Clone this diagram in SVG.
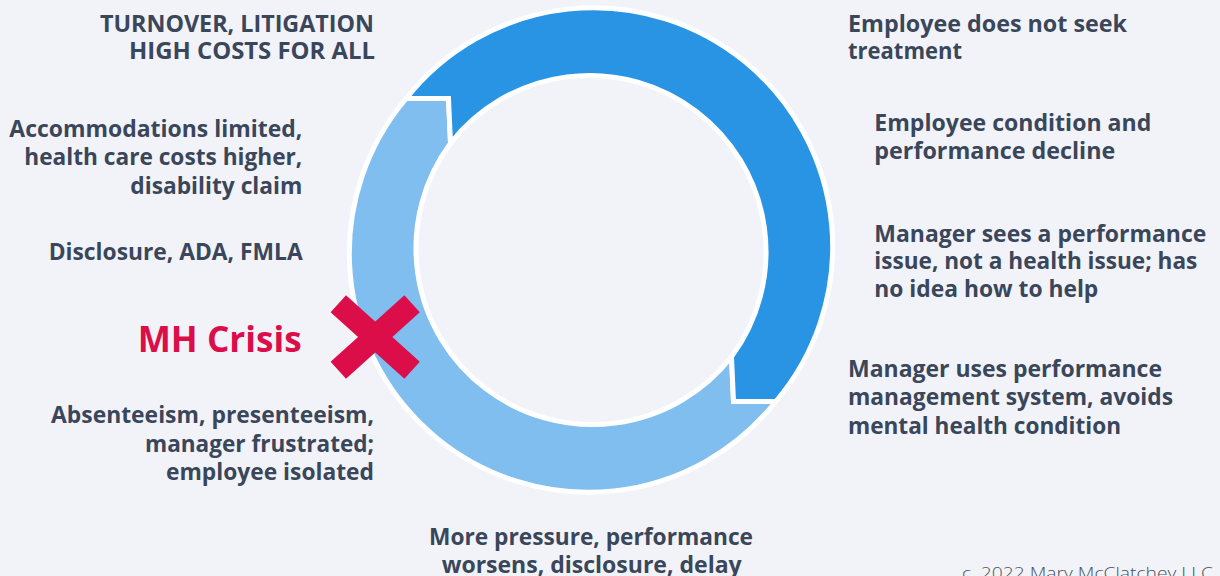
<svg xmlns="http://www.w3.org/2000/svg" width="1220" height="576" viewBox="0 0 1220 576">
<style>
.lbl{font-family:"Open Sans","Liberation Sans",sans-serif;font-weight:700;font-size:23px;fill:#3A4659}
.r{text-anchor:end}
.m{text-anchor:middle}
.crisis{font-family:"Open Sans","Liberation Sans",sans-serif;font-weight:700;font-size:36px;fill:#DB0E4A;text-anchor:end}
.copy{font-family:"Open Sans","Liberation Sans",sans-serif;font-weight:300;font-size:17px;fill:#4A4F5A}
.seg{stroke:#FFFFFF;stroke-width:5;stroke-linejoin:miter}
</style>
<rect width="1220" height="576" fill="#F2F3F9"/>
<g id="connectors">
<path class="seg" fill="#7FBEEF" d="M775.8,401.5 A239,239 0 1 1 406.2,98.5 L448.5,98.5 L450.5,143.2 A176.5,176.5 0 0 0 731.5,356.8 L733.5,401.5 Z"/>
<path class="seg" fill="#2894E3" d="M406.2,98.5 A239,239 0 1 1 775.8,401.5 L733.5,401.5 L731.5,356.8 A176.5,176.5 0 0 0 450.5,143.2 L448.5,98.5 Z"/>
</g>
<g id="crisis-mark">
<line x1="338.3" y1="303.7" x2="412.1" y2="370.3" stroke="#DB0E4A" stroke-width="23"/>
<line x1="412.1" y1="303.7" x2="338.3" y2="370.3" stroke="#DB0E4A" stroke-width="23"/>
</g>
<g id="n-turnover">
<text class="lbl r" x="374" y="31.7" textLength="274" lengthAdjust="spacingAndGlyphs">TURNOVER, LITIGATION</text>
<text class="lbl r" x="375" y="59.3" textLength="246" lengthAdjust="spacingAndGlyphs">HIGH COSTS FOR ALL</text>
</g>
<g id="n-accommodations">
<text class="lbl r" x="302.3" y="136.7" textLength="293" lengthAdjust="spacingAndGlyphs">Accommodations limited,</text>
<text class="lbl r" x="302.3" y="165.3" textLength="278" lengthAdjust="spacingAndGlyphs">health care costs higher,</text>
<text class="lbl r" x="302.3" y="194" textLength="172" lengthAdjust="spacingAndGlyphs">disability claim</text>
</g>
<g id="n-disclosure">
<text class="lbl r" x="302.7" y="260" textLength="254" lengthAdjust="spacingAndGlyphs">Disclosure, ADA, FMLA</text>
</g>
<g id="n-crisis">
<text class="crisis" x="301.7" y="351.7" textLength="164" lengthAdjust="spacingAndGlyphs">MH Crisis</text>
</g>
<g id="n-absenteeism">
<text class="lbl r" x="374" y="423.3" textLength="323" lengthAdjust="spacingAndGlyphs">Absenteeism, presenteeism,</text>
<text class="lbl r" x="374" y="451.7" textLength="229" lengthAdjust="spacingAndGlyphs">manager frustrated;</text>
<text class="lbl r" x="374" y="480" textLength="208" lengthAdjust="spacingAndGlyphs">employee isolated</text>
</g>
<g id="n-pressure">
<text class="lbl m" x="591" y="545" textLength="324" lengthAdjust="spacingAndGlyphs">More pressure, performance</text>
<text class="lbl m" x="591.7" y="573.3" textLength="300" lengthAdjust="spacingAndGlyphs">worsens, disclosure, delay</text>
</g>
<g id="n-no-treatment">
<text class="lbl" x="848" y="31.7" textLength="279" lengthAdjust="spacingAndGlyphs">Employee does not seek</text>
<text class="lbl" x="848" y="59.3" textLength="114" lengthAdjust="spacingAndGlyphs">treatment</text>
</g>
<g id="n-decline">
<text class="lbl" x="874.3" y="130.7" textLength="277" lengthAdjust="spacingAndGlyphs">Employee condition and</text>
<text class="lbl" x="874.3" y="159.3" textLength="241" lengthAdjust="spacingAndGlyphs">performance decline</text>
</g>
<g id="n-manager-sees">
<text class="lbl" x="874.3" y="241.7" textLength="332" lengthAdjust="spacingAndGlyphs">Manager sees a performance</text>
<text class="lbl" x="874.3" y="269.3" textLength="323" lengthAdjust="spacingAndGlyphs">issue, not a health issue; has</text>
<text class="lbl" x="874.3" y="297.3" textLength="224" lengthAdjust="spacingAndGlyphs">no idea how to help</text>
</g>
<g id="n-manager-uses">
<text class="lbl" x="848" y="376.7" textLength="314" lengthAdjust="spacingAndGlyphs">Manager uses performance</text>
<text class="lbl" x="848" y="405.3" textLength="325" lengthAdjust="spacingAndGlyphs">management system, avoids</text>
<text class="lbl" x="848" y="434" textLength="273" lengthAdjust="spacingAndGlyphs">mental health condition</text>
</g>
<g id="copyright">
<text class="copy" x="962" y="578.5" textLength="251" lengthAdjust="spacingAndGlyphs">c. 2022 Mary McClatchey LLC</text>
</g>
</svg>
